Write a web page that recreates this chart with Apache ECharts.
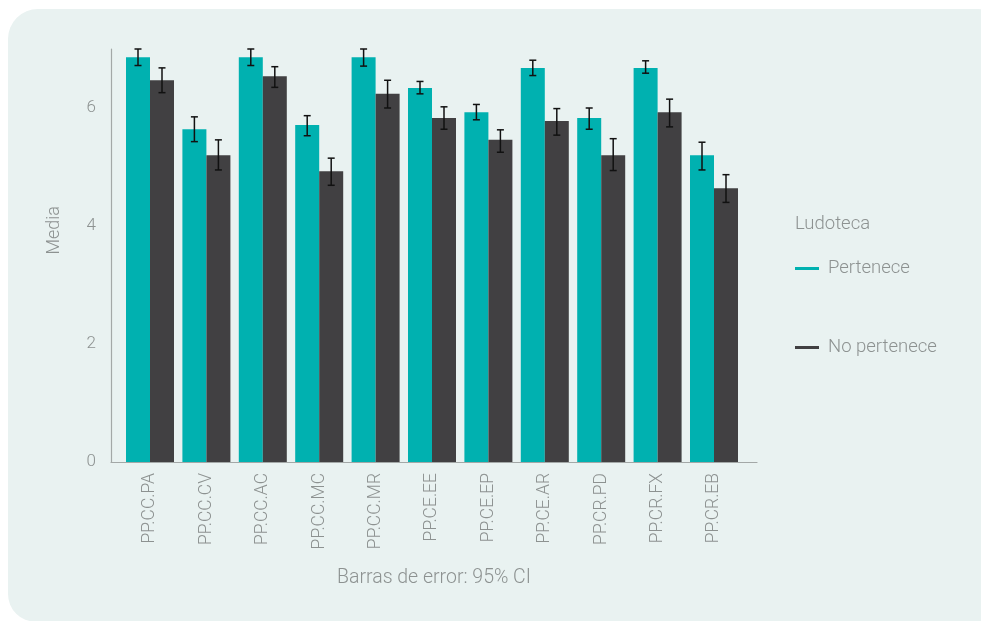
<!DOCTYPE html>
<html>
<head>
<meta charset="utf-8">
<script src="https://cdn.jsdelivr.net/npm/echarts@6/dist/echarts.min.js"></script>
<style>
html,body{margin:0;padding:0;background:#ffffff;}
#panel{position:absolute;left:8px;top:9px;width:1000px;height:613px;background:#e9f2f1;border-radius:30px 30px 30px 28px;}
#chart{position:absolute;left:0;top:0;width:981px;height:621px;}
</style>
</head>
<body>
<div id="panel"></div>
<div id="chart"></div>
<script>
var categories = ['PP.CC.PA','PP.CC.CV','PP.CC.AC','PP.CC.MC','PP.CC.MR','PP.CE.EE','PP.CE.EP','PP.CE.AR','PP.CR.PD','PP.CR.FX','PP.CR.EB'];
var seriesNames = ['Pertenece', 'No pertenece'];
var pertenece     = [6.86, 5.64, 6.86, 5.71, 6.86, 6.34, 5.93, 6.68, 5.83, 6.68, 5.20];
var perteneceLow  = [6.72, 5.43, 6.72, 5.53, 6.71, 6.24, 5.80, 6.55, 5.64, 6.59, 4.95];
var perteneceHigh = [7.00, 5.85, 7.00, 5.87, 7.00, 6.45, 6.06, 6.81, 6.00, 6.80, 5.42];
var noPertenece     = [6.47, 5.20, 6.54, 4.93, 6.24, 5.83, 5.46, 5.78, 5.20, 5.93, 4.64];
var noPerteneceLow  = [6.26, 4.95, 6.35, 4.69, 6.00, 5.64, 5.25, 5.54, 4.94, 5.68, 4.40];
var noPerteneceHigh = [6.68, 5.46, 6.70, 5.15, 6.47, 6.02, 5.63, 5.99, 5.48, 6.15, 4.87];
var yTicks = [0, 2, 4, 6];
var yTickLabels = ['0', '2', '4', '6'];

var FONT = 'Roboto';
var TXT = '#8d9291';
var AXIS = '#a3a8a7';
var TEAL = '#00b1b0';
var DARK = '#414042';

function errData(lows, highs, s) {
  return categories.map(function (c, i) { return [i, lows[i], highs[i], s]; });
}
var errorData = errData(perteneceLow, perteneceHigh, 0).concat(errData(noPerteneceLow, noPerteneceHigh, 1));

var chart = echarts.init(document.getElementById('chart'), null, {renderer: 'canvas'});
chart.setOption({
  backgroundColor: 'transparent',
  animation: false,
  textStyle: {fontFamily: FONT},
  title: {
    text: 'Ludoteca', left: 795, top: 215, padding: 0,
    textStyle: {fontFamily: FONT, fontSize: 18.5, fontWeight: 300, color: TXT}
  },
  legend: {
    data: seriesNames,
    orient: 'vertical', left: 795, top: 259, padding: 0,
    icon: 'rect', itemWidth: 24, itemHeight: 3, itemGap: 60,
    textStyle: {fontFamily: FONT, fontSize: 18.5, fontWeight: 300, color: TXT, padding: [0, 0, 0, 4]}
  },
  graphic: [{
    type: 'text', left: 45, top: 206, rotation: Math.PI / 2,
    style: {text: 'Media', font: '300 18px Roboto', fill: TXT}
  }],
  grid: [
    {left: 111, top: 49, width: 646, height: 413},
    {left: 121.8, top: 49, width: 620.4, height: 413}
  ],
  xAxis: [
    {gridIndex: 0, type: 'value', min: 0, max: 1,
     axisLine: {show: true, lineStyle: {color: AXIS, width: 1.2}},
     axisTick: {show: false}, axisLabel: {show: false}, splitLine: {show: false},
     name: 'Barras de error: 95% CI', nameLocation: 'middle', nameGap: 106,
     nameTextStyle: {fontFamily: FONT, fontSize: 19.5, fontWeight: 300, color: TXT}},
    {gridIndex: 1, type: 'category', data: categories,
     axisLine: {show: false}, axisTick: {show: false},
     axisLabel: {rotate: 90, margin: 11, fontFamily: FONT, fontSize: 17.5, fontWeight: 300, color: TXT}}
  ],
  yAxis: [
    {gridIndex: 0, type: 'value', min: 0, max: 7, interval: 2,
     axisLine: {show: true, lineStyle: {color: AXIS, width: 1.2}},
     axisTick: {show: false}, splitLine: {show: false},
     axisLabel: {margin: 15, showMaxLabel: false, fontFamily: FONT, fontSize: 17, fontWeight: 300, color: TXT,
       formatter: function (v) { var k = yTicks.indexOf(v); return k >= 0 ? yTickLabels[k] : ''; }}},
    {gridIndex: 1, type: 'value', min: 0, max: 7, show: false}
  ],
  series: [
    {name: seriesNames[0], type: 'bar', xAxisIndex: 1, yAxisIndex: 1, data: pertenece,
     barWidth: 24, barGap: '0%', itemStyle: {color: TEAL}},
    {name: seriesNames[1], type: 'bar', xAxisIndex: 1, yAxisIndex: 1, data: noPertenece,
     barWidth: 24, barGap: '0%', itemStyle: {color: DARK}},
    {type: 'custom', xAxisIndex: 1, yAxisIndex: 1, data: errorData, z: 10,
     encode: {x: 0, y: [1, 2]},
     renderItem: function (params, api) {
       var cat = api.value(0), s = api.value(3);
       var lo = api.coord([cat, api.value(1)]);
       var hi = api.coord([cat, api.value(2)]);
       var x = lo[0] + (s === 0 ? -12 : 12);
       var cap = 3.5;
       var st = {stroke: '#111111', lineWidth: 1.5, fill: null};
       return {type: 'group', children: [
         {type: 'line', shape: {x1: x, y1: lo[1], x2: x, y2: hi[1]}, style: st},
         {type: 'line', shape: {x1: x - cap, y1: lo[1], x2: x + cap, y2: lo[1]}, style: st},
         {type: 'line', shape: {x1: x - cap, y1: hi[1], x2: x + cap, y2: hi[1]}, style: st}
       ]};
     }}
  ]
});
</script>
</body>
</html>
